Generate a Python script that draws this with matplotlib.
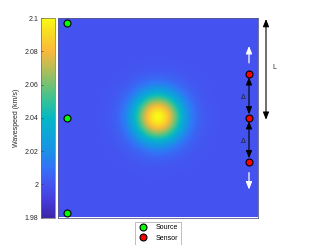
import numpy as np
import matplotlib
matplotlib.use('Agg')
import matplotlib.pyplot as plt
from matplotlib.colors import LinearSegmentedColormap

plt.rcParams['font.family'] = ['Liberation Sans', 'DejaVu Sans']

# data
c_background = 2.0          # km/s
c_peak = 2.1                # km/s
blob_center = (0.5, 0.5)
blob_width = 0.085
clim = (1.98, 2.1)
cbar_ticks = [1.98, 2.0, 2.02, 2.04, 2.06, 2.08, 2.1]
cbar_ticklabels = ['1.98', '2', '2.02', '2.04', '2.06', '2.08', '2.1']
source_x = [0.045, 0.045, 0.045]
source_y = [0.975, 0.5, 0.025]
sensor_x = [0.955, 0.955, 0.955]
sensor_y = [0.72, 0.5, 0.28]

# approximate parula
parula_pts = [
    (0.000, (0.24, 0.15, 0.66)),
    (0.080, (0.27, 0.23, 0.85)),
    (0.167, (0.27, 0.33, 0.94)),
    (0.250, (0.20, 0.45, 0.97)),
    (0.333, (0.10, 0.57, 0.90)),
    (0.420, (0.05, 0.65, 0.85)),
    (0.500, (0.02, 0.72, 0.77)),
    (0.583, (0.20, 0.76, 0.60)),
    (0.667, (0.45, 0.76, 0.45)),
    (0.750, (0.72, 0.74, 0.33)),
    (0.833, (0.98, 0.72, 0.24)),
    (0.920, (0.97, 0.85, 0.15)),
    (1.000, (0.98, 0.98, 0.08)),
]
parula = LinearSegmentedColormap.from_list('parula', parula_pts)

n = 81
xg = np.linspace(0, 1, n)
X, Y = np.meshgrid(xg, xg)
r2 = (X - blob_center[0])**2 + (Y - blob_center[1])**2
speed = c_background + (c_peak - c_background) * np.exp(-r2 / (2 * blob_width**2))

fig = plt.figure(figsize=(3.13, 2.45), dpi=100)
W, H = 313.0, 245.0
ax = fig.add_axes([58/W, 1 - 217.5/H, 200/W, 199.5/H])
cax = fig.add_axes([41/W, 1 - 217.5/H, 13.5/W, 199.5/H])

im = ax.imshow(speed, extent=[0, 1, 0, 1], origin='lower', cmap=parula,
               vmin=clim[0], vmax=clim[1], interpolation='bilinear',
               aspect='auto')
ax.set_xlim(0, 1)
ax.set_ylim(0, 1)
ax.set_xticks([])
ax.set_yticks([])
for s in ax.spines.values():
    s.set_color('#5a5a8c')
    s.set_linewidth(0.6)

# markers
ax.plot(source_x, source_y, 'o', color='#00ff00', mec='black', mew=0.8,
        ms=5, label='Source', clip_on=False, zorder=5)
ax.plot(sensor_x, sensor_y, 'o', color='red', mec='black', mew=0.8,
        ms=5, label='Sensor', clip_on=False, zorder=5)

head = '-|>,head_width=0.18,head_length=0.45'
dhead = '<|-|>,head_width=0.18,head_length=0.45'

# white arrows showing sensor array extends
xs = sensor_x[0]
ax.annotate('', xy=(xs, 0.86), xytext=(xs, 0.775),
            arrowprops=dict(arrowstyle=head, color='white', lw=0.9,
                            shrinkA=0, shrinkB=0))
ax.annotate('', xy=(xs, 0.14), xytext=(xs, 0.225),
            arrowprops=dict(arrowstyle=head, color='white', lw=0.9,
                            shrinkA=0, shrinkB=0))

# spacing arrows
for y0, y1 in [(sensor_y[0], sensor_y[1]), (sensor_y[1], sensor_y[2])]:
    ax.annotate('', xy=(xs, y0 - 0.017), xytext=(xs, y1 + 0.017),
                arrowprops=dict(arrowstyle=dhead, color='black', lw=0.8,
                                shrinkA=0, shrinkB=0))
    ax.text(xs - 0.012, (y0 + y1) / 2 - 0.005, r'$\Delta$', ha='right',
            va='center', fontsize=5, color='#222222')

# L arrow outside axes
ax.annotate('', xy=(1.04, 0.995), xytext=(1.04, 0.49),
            xycoords='axes fraction', textcoords='axes fraction',
            arrowprops=dict(arrowstyle=dhead, color='black', lw=0.8,
                            shrinkA=0, shrinkB=0))
ax.text(1.072, 0.75, 'L', transform=ax.transAxes, ha='left', va='center',
        fontsize=5, color='#222222')

# colorbar
cb = fig.colorbar(im, cax=cax, ticks=cbar_ticks)
cb.ax.set_yticklabels(cbar_ticklabels)
cax.yaxis.set_ticks_position('left')
cax.yaxis.set_label_position('left')
cax.tick_params(labelsize=5, length=1.5, width=0.4, direction='in',
                colors='#262626', pad=2)
cb.outline.set_edgecolor('#6c6c6c')
cb.outline.set_linewidth(0.5)
cb.set_label('Wavespeed (km/s)', fontsize=5, color='#262626', labelpad=3)

leg = ax.legend(loc='upper center', bbox_to_anchor=(0.5, -0.003), ncol=1,
                fontsize=5, frameon=True, fancybox=False, edgecolor='#8c8c8c',
                handletextpad=1.2, borderpad=0.4, labelspacing=0.5,
                handlelength=1.5)
leg.get_frame().set_linewidth(0.5)

fig.savefig('out.png', dpi=100)
